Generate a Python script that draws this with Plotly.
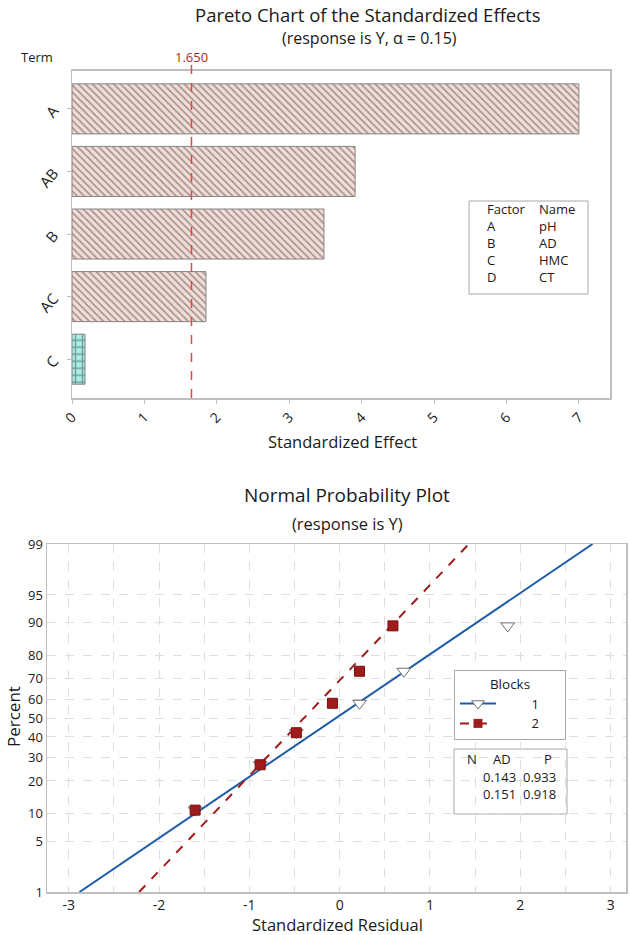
import plotly.graph_objects as go
from statistics import NormalDist

W, H = 630, 935
FONT = "Open Sans"
TXT = "#1a1a1a"
FRAME = "#bfbfbf"
GRID = "#dedede"


def px(x):
    return x / W


def py(y):
    return 1 - y / H


# ---------------- Pareto chart data ----------------
terms = ["A", "AB", "B", "AC", "C"]
effects = [7.00, 3.91, 3.48, 1.85, 0.18]
critical_value = 1.650
effect_ticks = [0, 1, 2, 3, 4, 5, 6, 7]
factors = ["A", "B", "C", "D"]
factor_names = ["pH", "AD", "HMC", "CT"]

# ---------------- Normal probability plot data ----------------
percent_ticks = [1, 5, 10, 20, 30, 40, 50, 60, 70, 80, 90, 95, 99]
resid_ticks = [-3, -2, -1, 0, 1, 2, 3]
block1_resid = [-1.60, -0.88, -0.48, 0.22, 0.71, 1.86]
block1_pct = [10.9, 26.6, 42.2, 57.8, 73.4, 89.1]
block2_resid = [-1.60, -0.88, -0.48, -0.08, 0.22, 0.59]
block2_pct = [10.9, 26.6, 42.2, 57.8, 73.4, 89.1]
fit1_resid = [-2.88, 2.80]
fit1_pct = [1, 99]
fit2_resid = [-2.22, 1.43]
fit2_pct = [1, 99]
block_names = ["1", "2"]
ad_values = ["0.143", "0.151"]
p_values = ["0.933", "0.918"]

nd = NormalDist()


def z(pcts):
    return [nd.inv_cdf(p / 100.0) for p in pcts]


BLUE = "#1f5ca8"
RED = "#a01c1c"

fig = go.Figure()

# Pareto bars
sig = [e > critical_value for e in effects]
fig.add_trace(go.Bar(
    x=effects, y=terms, orientation="h",
    marker=dict(
        color=["#f3dcd5" if s else "#a6efe6" for s in sig],
        line=dict(color="#858585", width=1),
        pattern=dict(
            shape=["\\" if s else "+" for s in sig],
            fgcolor=["#3c3c3c" if s else "#2f4a4a" for s in sig],
            size=[5 if s else 7 for s in sig], solidity=[0.3 if s else 0.35 for s in sig],
        ),
    ),
    xaxis="x", yaxis="y", showlegend=False, hoverinfo="x+y",
))

# Normal probability plot: fitted lines
fig.add_trace(go.Scatter(x=fit1_resid, y=z(fit1_pct), mode="lines",
                         line=dict(color=BLUE, width=2), xaxis="x2", yaxis="y2",
                         showlegend=False))
fig.add_trace(go.Scatter(x=fit2_resid, y=z(fit2_pct), mode="lines",
                         line=dict(color=RED, width=2, dash="dash"), xaxis="x2", yaxis="y2",
                         showlegend=False))
# points
fig.add_trace(go.Scatter(x=block1_resid, y=z(block1_pct), mode="markers",
                         marker=dict(symbol="triangle-down", size=12, color="white",
                                     line=dict(color="#6e6e6e", width=1)),
                         xaxis="x2", yaxis="y2", showlegend=False))
fig.add_trace(go.Scatter(x=block2_resid, y=z(block2_pct), mode="markers",
                         marker=dict(symbol="square", size=10, color=RED,
                                     line=dict(color="#7a1010", width=1)),
                         xaxis="x2", yaxis="y2", showlegend=False))
# legend entries
NB = "\u00a0"
fig.add_trace(go.Scatter(x=[None], y=[None], mode="lines+markers",
                         name=NB * 9 + block_names[0] + NB * 6,
                         line=dict(color=BLUE, width=2),
                         marker=dict(symbol="triangle-down", size=11, color="white",
                                     line=dict(color="#6e6e6e", width=1)),
                         xaxis="x2", yaxis="y2", showlegend=True))
fig.add_trace(go.Scatter(x=[None], y=[None], mode="lines+markers",
                         name=NB * 9 + block_names[1] + NB * 6,
                         line=dict(color=RED, width=2, dash="dash"),
                         marker=dict(symbol="square", size=9, color=RED),
                         xaxis="x2", yaxis="y2", showlegend=True))

annotations = []


def ann(text, x, y, size=13, color=TXT, xanchor="center", textangle=0, xref="paper",
        align="center"):
    annotations.append(dict(text=text, x=x, y=y, xref=xref, yref="paper",
                            xanchor=xanchor, yanchor="middle", showarrow=False,
                            textangle=textangle, align=align,
                            font=dict(family=FONT, size=size, color=color)))


# Pareto titles
ann("Pareto Chart of the Standardized Effects", px(368), py(14), size=18.5)
ann("(response is Y, \u03b1 = 0.15)", px(369), py(38), size=16)
ann("Term", px(37), py(57), size=13)
ann(f"{critical_value:.3f}", critical_value, py(57), size=13, color="#a52a2a", xref="x")
ann("Standardized Effect", px(342), py(442), size=16.5)

# factor table (one multi-line text per column)
ann("<br>".join(["Factor"] + factors), px(485), py(243), size=13, xanchor="left", align="left")
ann("<br>".join(["Name"] + factor_names), px(537), py(243), size=13, xanchor="left", align="left")

# Normal plot titles
ann("Normal Probability Plot", px(347), py(495), size=19)
ann("(response is Y)", px(347), py(523), size=16.5)
ann("Standardized Residual", px(337), py(924), size=16.5)
ann("Percent", px(13), py(717), size=17, textangle=-90)

# N AD P table
ann("N", px(472), py(759), size=13)
ann("AD", px(502), py(759), size=13)
ann("P", px(548), py(759), size=13)
ann("<br>".join(ad_values), px(499), py(785), size=13)
ann("<br>".join(p_values), px(539), py(785), size=13)

shapes = [
    # critical value line
    dict(type="line", xref="x", yref="paper", x0=critical_value, x1=critical_value,
         y0=py(398), y1=py(63), line=dict(color="#e04848", width=1.5, dash="dash")),
    # factor table box
    dict(type="rect", xref="paper", yref="paper", x0=px(469), x1=px(588),
         y0=py(294), y1=py(201), line=dict(color="#a8a8a8", width=1), fillcolor="rgba(0,0,0,0)"),
    # N AD P box
    dict(type="rect", xref="paper", yref="paper", x0=px(454), x1=px(567),
         y0=py(814), y1=py(749), line=dict(color="#a8a8a8", width=1), fillcolor="white",
         layer="below"),
]

tickfont = dict(family=FONT, size=14, color=TXT)

fig.update_layout(
    width=W, height=H,
    margin=dict(l=0, r=0, t=0, b=0, autoexpand=False),
    paper_bgcolor="white", plot_bgcolor="white",
    font=dict(family=FONT, color=TXT),
    bargap=0.2,
    annotations=annotations,
    shapes=shapes,
    xaxis=dict(domain=[px(72), px(610)], anchor="y", range=[0, 7.43], automargin=False,
               tickvals=effect_ticks, tickangle=-45, ticks="outside", ticklen=4,
               tickcolor=FRAME, showline=True, mirror=True, linecolor=FRAME, linewidth=1.5,
               showgrid=False, zeroline=False, tickfont=tickfont, fixedrange=True),
    yaxis=dict(domain=[py(398), py(70.7)], anchor="x", type="category", automargin=False,
               categoryorder="array", categoryarray=terms, range=[4.62, -0.61],
               tickangle=-50, ticks="outside", ticklen=4, tickcolor=FRAME,
               ticklabelstandoff=10,
               showline=True, mirror=True, linecolor=FRAME, linewidth=1.5,
               showgrid=False, tickfont=dict(family=FONT, size=15, color=TXT), fixedrange=True),
    xaxis2=dict(domain=[px(47), px(626)], anchor="y2", range=[-3.24, 3.17], automargin=False,
                tickvals=resid_ticks, ticktext=[str(t) for t in resid_ticks],
                ticks="", showline=True, mirror=True, linecolor=FRAME, linewidth=1.5,
                showgrid=True, gridcolor=GRID, griddash="dash", gridwidth=1,
                minor=dict(dtick=0.5, showgrid=True, gridcolor=GRID, griddash="dash"),
                zeroline=False, tickfont=tickfont, fixedrange=True),
    yaxis2=dict(domain=[py(892), py(544)], anchor="x2", automargin=False,
                range=[nd.inv_cdf(0.01), nd.inv_cdf(0.99)],
                tickvals=z(percent_ticks), ticktext=[str(p) for p in percent_ticks],
                ticks="", showline=True, mirror=True, linecolor=FRAME, linewidth=1.5,
                showgrid=True, gridcolor=GRID, griddash="dash", gridwidth=1,
                zeroline=False, tickfont=dict(family=FONT, size=13, color=TXT), fixedrange=True),
    legend=dict(x=px(454), y=py(670), xanchor="left", yanchor="top",
                bgcolor="white", bordercolor="#a8a8a8", borderwidth=1,
                title=dict(text="Blocks", side="top center",
                           font=dict(family=FONT, size=13.5, color=TXT)),
                font=dict(family=FONT, size=13, color=TXT),
                tracegroupgap=0, itemwidth=36),
)

fig.write_html("out.html", config={"displayModeBar": False, "staticPlot": True},
               post_script="document.body.style.margin='0';")
